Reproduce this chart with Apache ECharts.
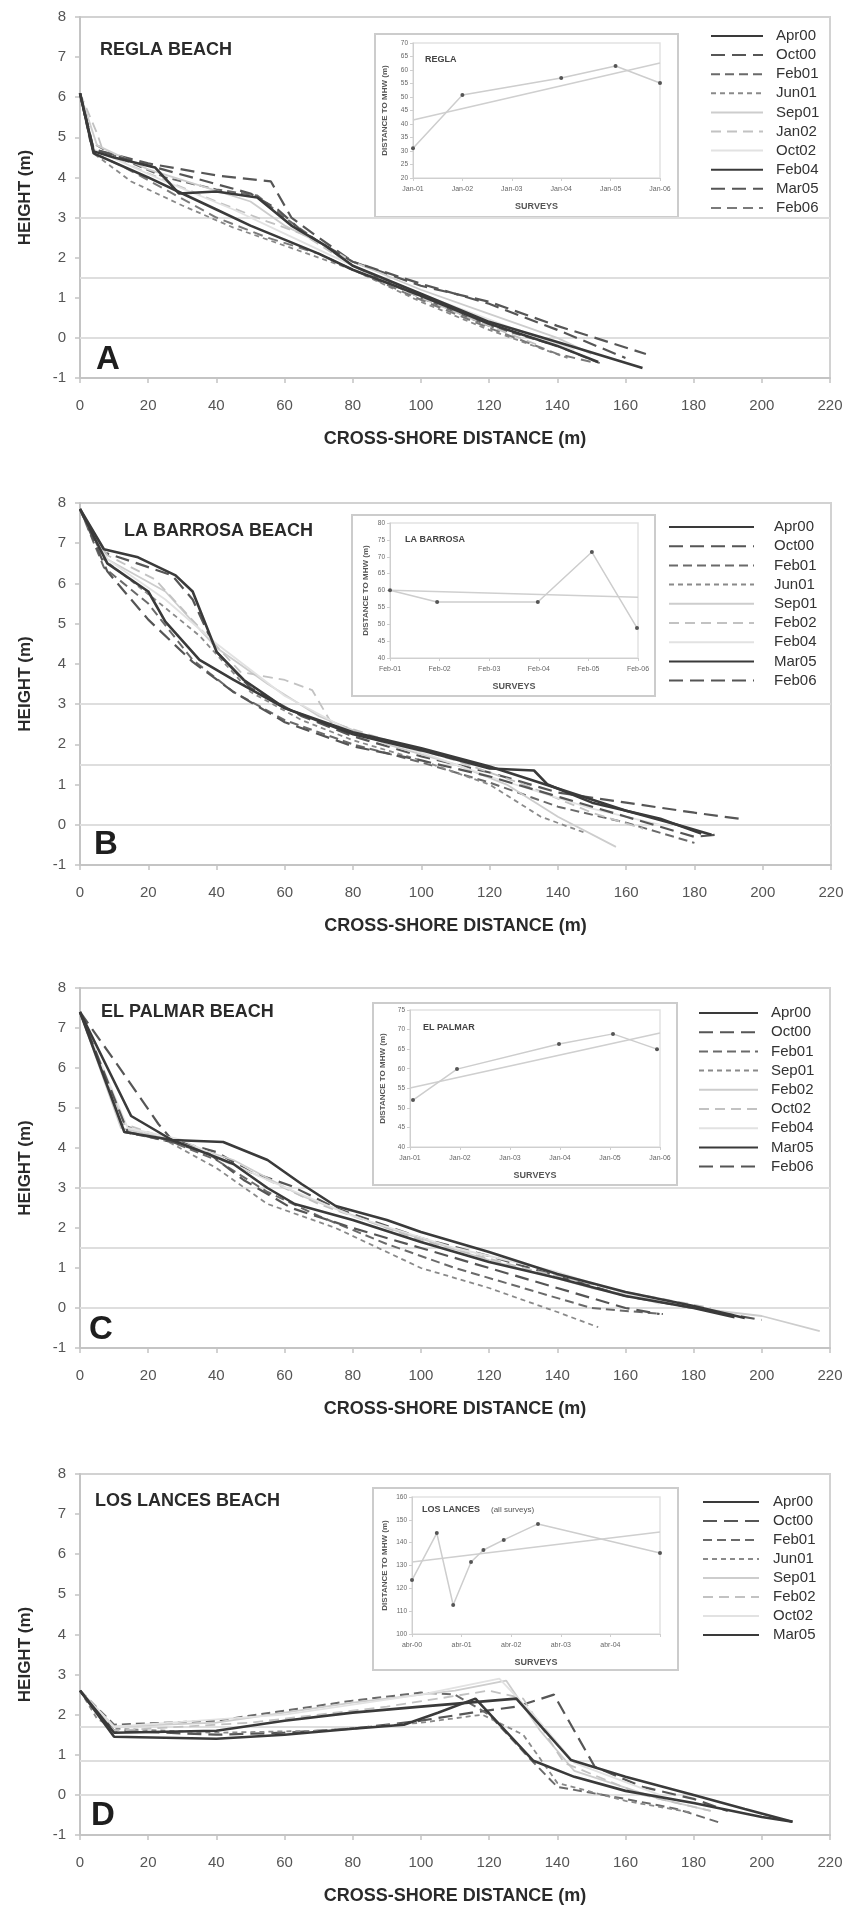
<!DOCTYPE html>
<html>
<head>
<meta charset="utf-8">
<script src="https://cdn.jsdelivr.net/npm/echarts@6/dist/echarts.min.js"></script>
<style>
html,body{margin:0;padding:0;background:#fff;}
#c{width:851px;height:1906px;}
</style>
</head>
<body>
<div id="c"></div>
<script>
// ---------------- DATA ----------------
const xTicks = [0,20,40,60,80,100,120,140,160,180,200,220];
const legendA = ['Apr00','Oct00','Feb01','Jun01','Sep01','Jan02','Oct02','Feb04','Mar05','Feb06'];
const legendB = ['Apr00','Oct00','Feb01','Jun01','Sep01','Feb02','Feb04','Mar05','Feb06'];
const legendC = ['Apr00','Oct00','Feb01','Sep01','Feb02','Oct02','Feb04','Mar05','Feb06'];
const legendD = ['Apr00','Oct00','Feb01','Jun01','Sep01','Feb02','Oct02','Mar05'];
const refA = [3, 1.5, 0];
const refB = [3, 1.5, 0];
const refC = [3, 1.5, 0];
const refD = [1.7, 0.85, 0];

// A: Regla
const reglaApr00 = [[0,6.1],[4,4.65],[10,4.5],[22,4.25],[29,3.6],[40,3.65],[52,3.5],[62,2.8],[72,2.3],[80,1.8],[100,1.1],[120,0.4],[140,-0.1],[165,-0.75]];
const reglaOct00 = [[0,6.1],[4,4.7],[20,4.35],[40,4.05],[56,3.9],[62,3.0],[70,2.5],[80,1.9],[100,1.3],[120,0.9],[140,0.3],[166,-0.4]];
const reglaFeb01 = [[0,6.1],[3,4.9],[10,4.55],[25,4.0],[40,3.7],[52,3.55],[60,3.0],[70,2.4],[80,1.8],[100,1.0],[120,0.3],[140,-0.2],[153,-0.65]];
const reglaJun01 = [[0,6.1],[4,4.6],[15,3.9],[30,3.3],[45,2.75],[60,2.3],[70,2.0],[80,1.7],[100,0.9],[120,0.2],[143,-0.5]];
const reglaSep01 = [[0,6.1],[5,4.8],[20,4.2],[35,3.8],[50,3.4],[60,2.8],[72,2.3],[80,1.9],[100,1.2],[120,0.6],[140,0.0],[150,-0.4]];
const reglaJan02 = [[0,6.1],[5,5.1],[7,4.6],[20,4.1],[40,3.4],[55,2.9],[65,2.6],[80,1.8],[100,1.0],[120,0.3],[135,-0.2]];
const reglaOct02 = [[0,6.1],[4,4.7],[25,3.9],[45,3.2],[60,2.6],[80,1.8],[100,1.1],[125,0.3],[145,-0.3]];
const reglaFeb04 = [[0,6.1],[4,4.6],[20,4.0],[30,3.6],[40,3.2],[50,2.8],[60,2.45],[70,2.1],[80,1.7],[100,1.05],[120,0.35],[140,-0.2],[152,-0.6]];
const reglaMar05 = [[0,6.1],[4,4.7],[20,4.3],[35,3.95],[50,3.6],[58,3.2],[66,2.6],[80,1.9],[100,1.35],[120,0.85],[140,0.2],[160,-0.5]];
const reglaFeb06 = [[0,6.1],[4,4.6],[12,4.3],[25,3.7],[40,3.0],[55,2.5],[70,2.1],[80,1.7],[100,0.95],[120,0.25],[140,-0.4],[150,-0.6]];

// B: La Barrosa
const barrosaApr00 = [[0,7.85],[7,6.85],[17,6.65],[28,6.2],[33,5.8],[40,4.3],[48,3.6],[60,2.9],[80,2.25],[100,1.85],[120,1.4],[133,1.35],[137,1.0],[150,0.55],[170,0.15],[182,-0.22]];
const barrosaOct00 = [[0,7.85],[6,6.8],[15,6.55],[27,6.2],[33,5.6],[40,4.3],[50,3.4],[65,2.7],[80,2.2],[100,1.7],[120,1.3],[140,0.8],[160,0.55],[180,0.3],[193,0.15]];
const barrosaFeb01 = [[0,7.85],[7,6.4],[20,5.5],[33,4.1],[45,3.3],[60,2.6],[80,2.0],[100,1.55],[120,1.05],[140,0.45],[160,0.05],[180,-0.45]];
const barrosaJun01 = [[0,7.85],[7,6.6],[22,5.6],[35,4.7],[50,3.3],[65,2.6],[80,2.1],[100,1.6],[120,1.0],[135,0.2],[148,-0.2]];
const barrosaSep01 = [[0,7.85],[8,6.6],[25,5.8],[40,4.4],[55,3.5],[70,2.7],[90,2.0],[110,1.5],[125,1.0],[140,0.2],[157,-0.55]];
const barrosaFeb02 = [[0,7.85],[8,6.7],[22,6.1],[35,4.9],[47,3.8],[60,3.6],[68,3.35],[73.5,2.55],[90,2.1],[110,1.6],[130,1.0],[150,0.3],[165,-0.1]];
const barrosaFeb04 = [[0,7.85],[8,6.6],[25,5.6],[40,4.5],[60,3.2],[80,2.3],[100,1.8],[120,1.2],[150,0.4],[170,0.0]];
const barrosaMar05 = [[0,7.85],[8,6.5],[20,5.8],[25,5.05],[35,4.1],[45,3.6],[60,2.9],[80,2.3],[100,1.9],[120,1.45],[140,0.9],[160,0.35],[175,0.0],[185,-0.25]];
const barrosaFeb06 = [[0,7.85],[8,6.3],[20,5.1],[33,4.05],[45,3.3],[60,2.55],[80,1.95],[100,1.6],[120,1.2],[140,0.7],[160,0.2],[180,-0.3],[186,-0.25]];

// C: El Palmar
const palmarApr00 = [[0,7.4],[15,4.8],[27,4.2],[45,3.6],[55,3.0],[63,2.6],[80,2.2],[100,1.65],[120,1.15],[140,0.75],[160,0.3],[180,0.0],[192,-0.23]];
const palmarOct00 = [[0,7.4],[10,6.2],[23,4.6],[27,4.2],[40,3.9],[50,3.4],[62,3.05],[75,2.5],[100,1.75],[120,1.3],[140,0.8],[160,0.3],[180,0.0],[200,-0.3]];
const palmarFeb01 = [[0,7.4],[13,4.4],[27,4.15],[40,3.7],[55,2.9],[70,2.3],[90,1.6],[110,1.0],[130,0.5],[150,0.0],[171,-0.15]];
const palmarSep01 = [[0,7.4],[12,4.6],[25,4.2],[40,3.5],[55,2.6],[75,2.0],[100,1.0],[120,0.5],[140,-0.1],[152,-0.48]];
const palmarFeb02 = [[0,7.4],[12,4.5],[27,4.2],[45,3.7],[65,2.8],[90,2.0],[120,1.2],[150,0.5],[180,0.0],[200,-0.2],[217,-0.58]];
const palmarOct02 = [[0,7.4],[13,4.6],[30,4.1],[50,3.4],[70,2.6],[100,1.7],[130,1.0],[160,0.4],[185,0.0]];
const palmarFeb04 = [[0,7.4],[14,4.5],[30,4.2],[55,3.2],[80,2.3],[110,1.5],[140,0.9],[170,0.1]];
const palmarMar05 = [[0,7.4],[13,4.4],[27,4.2],[42,4.15],[55,3.7],[65,3.1],[75,2.55],[90,2.2],[100,1.9],[120,1.4],[140,0.85],[160,0.4],[180,0.05],[195,-0.25]];
const palmarFeb06 = [[0,7.4],[14,4.4],[27,4.15],[38,3.85],[48,3.2],[62,2.5],[80,2.0],[100,1.5],[120,1.0],[140,0.5],[160,0.0],[170,-0.15]];

// D: Los Lances
const lancesApr00 = [[0,2.6],[10,1.45],[40,1.4],[60,1.5],[80,1.65],[95,1.75],[105,2.05],[116,2.4],[133,0.85],[145,0.45],[160,0.1],[180,-0.2],[200,-0.55],[209,-0.67]];
const lancesOct00 = [[0,2.6],[10,1.6],[40,1.5],[60,1.55],[80,1.65],[100,1.85],[115,2.05],[128,2.2],[139,2.5],[151,0.7],[165,0.2],[180,-0.1],[190,-0.4]];
const lancesFeb01 = [[0,2.6],[10,1.75],[40,1.85],[60,2.1],[80,2.35],[100,2.55],[110,2.5],[120,2.0],[132,0.9],[140,0.2],[160,-0.1],[175,-0.35],[188,-0.7]];
const lancesJun01 = [[0,2.6],[5,1.9],[10,1.65],[40,1.55],[70,1.6],[100,1.8],[118,2.0],[130,1.5],[140,0.3],[160,-0.15],[180,-0.45]];
const lancesSep01 = [[0,2.6],[10,1.7],[40,1.8],[80,2.3],[110,2.6],[125,2.85],[135,1.6],[145,0.6],[170,-0.1],[185,-0.4]];
const lancesFeb02 = [[0,2.6],[10,1.6],[50,1.8],[90,2.2],[120,2.6],[130,2.4],[142,0.8],[165,0.0],[185,-0.4]];
const lancesOct02 = [[0,2.6],[10,1.7],[60,2.0],[100,2.5],[123,2.9],[133,2.0],[145,0.8],[170,0.0]];
const lancesMar05 = [[0,2.6],[10,1.55],[40,1.6],[60,1.85],[80,2.05],[100,2.2],[128,2.4],[144,0.87],[160,0.45],[180,0.0],[195,-0.35],[209,-0.67]];

// Insets: distance to MHW per survey
const reglaInsetLabels = ['Jan-01','Jan-02','Jan-03','Jan-04','Jan-05','Jan-06'];
const barrosaInsetLabels = ['Feb-01','Feb-02','Feb-03','Feb-04','Feb-05','Feb-06'];
const palmarInsetLabels = ['Jan-01','Jan-02','Jan-03','Jan-04','Jan-05','Jan-06'];
const lancesInsetLabels = ['abr-00','abr-01','abr-02','abr-03','abr-04',''];
const reglaDist = [[0,31],[1,50.7],[3,57],[4.1,61.5],[5,55.2]];
const reglaTrend = [[0,41.5],[5,62.6]];
const barrosaDist = [[0,60.1],[0.95,56.6],[2.98,56.6],[4.07,71.4],[4.98,48.9]];
const barrosaTrend = [[0,60.1],[5,58.0]];
const palmarDist = [[0.06,52],[0.94,59.9],[2.98,66.3],[4.06,68.9],[4.94,65]];
const palmarTrend = [[0,55.1],[5,69.1]];
const lancesDist = [[0,123.6],[0.5,144.2],[0.83,112.7],[1.19,131.5],[1.44,136.8],[1.85,141.2],[2.54,148.2],[5,135.5]];
const lancesTrend = [[0,131.5],[5,144.7]];

// ---------------- STYLE ----------------
const FONT = "'Liberation Sans', Arial, sans-serif";
const styleList = [
  {color:'#3a3a3a', width:2.6, type:'solid'},
  {color:'#565656', width:2.2, type:[14,7]},
  {color:'#6a6a6a', width:2.0, type:[9,5]},
  {color:'#8a8a8a', width:1.8, type:[5,4]},
  {color:'#cdcdcd', width:1.8, type:'solid'},
  {color:'#c2c2c2', width:1.8, type:[10,6]},
  {color:'#e2e2e2', width:1.8, type:'solid'},
  {color:'#3a3a3a', width:2.6, type:'solid'},
  {color:'#555555', width:2.2, type:[14,7]},
  {color:'#7a7a7a', width:2.0, type:[10,6]}
];

const panels = [
  {id:'A', names:legendA, refs:refA, data:[reglaApr00,reglaOct00,reglaFeb01,reglaJun01,reglaSep01,reglaJan02,reglaOct02,reglaFeb04,reglaMar05,reglaFeb06],
   grid:{left:80, top:17, width:750, height:361},
   legend:{left:710, top:28.5, itemWidth:52, gap:19.1, textPad:8},
   title:'REGLA BEACH', titlePos:[100,50], letter:'A', letterPos:[96,360],
   box:[375,34,303,183], igrid:{left:413, top:43, width:247, height:135},
   ilabels:reglaInsetLabels, imin:20, imax:70, iint:5, idist:reglaDist, itrend:reglaTrend,
   iname:'REGLA', inamePos:[425,60], iyGap:24},
  {id:'B', names:legendB, refs:refB, data:[barrosaApr00,barrosaOct00,barrosaFeb01,barrosaJun01,barrosaSep01,barrosaFeb02,barrosaFeb04,barrosaMar05,barrosaFeb06],
   grid:{left:80, top:503, width:751, height:362},
   legend:{left:668, top:519.5, itemWidth:85, gap:19.2, textPad:15},
   title:'LA BARROSA BEACH', titlePos:[124,531], letter:'B', letterPos:[94,845], box:[352,515,303,181],
   igrid:{left:390, top:523, width:248, height:135},
   ilabels:barrosaInsetLabels, imin:40, imax:80, iint:5, idist:barrosaDist, itrend:barrosaTrend,
   iname:'LA BARROSA', inamePos:[405,540], iyGap:20},
  {id:'C', names:legendC, refs:refC, data:[palmarApr00,palmarOct00,palmarFeb01,palmarSep01,palmarFeb02,palmarOct02,palmarFeb04,palmarMar05,palmarFeb06],
   grid:{left:80, top:988, width:750, height:360},
   legend:{left:698, top:1005.5, itemWidth:59, gap:19.2, textPad:8},
   title:'EL PALMAR BEACH', titlePos:[101,1012], letter:'C', letterPos:[89,1330], box:[373,1003,304,182],
   igrid:{left:410, top:1010, width:250, height:137},
   ilabels:palmarInsetLabels, imin:40, imax:75, iint:5, idist:palmarDist, itrend:palmarTrend,
   iname:'EL PALMAR', inamePos:[423,1028], iyGap:23},
  {id:'D', names:legendD, refs:refD, data:[lancesApr00,lancesOct00,lancesFeb01,lancesJun01,lancesSep01,lancesFeb02,lancesOct02,lancesMar05],
   grid:{left:80, top:1474, width:750, height:361},
   legend:{left:702, top:1494.5, itemWidth:56, gap:19.0, textPad:9},
   title:'LOS LANCES BEACH', titlePos:[95,1501], letter:'D', letterPos:[91,1816], box:[373,1488,305,182],
   igrid:{left:412, top:1497, width:248, height:137},
   ilabels:lancesInsetLabels, imin:100, imax:160, iint:10, idist:lancesDist, itrend:lancesTrend,
   iname:'LOS LANCES', inamePos:[422,1510], iyGap:23, isub:'(all surveys)'}
];

const grids = [], xAxes = [], yAxes = [], series = [], legends = [], graphics = [];

panels.forEach((p, pi) => {
  grids.push(Object.assign({show:true, borderColor:'#d2d2d2', borderWidth:2, backgroundColor:'transparent'}, p.grid));
  xAxes.push({
    type:'value', gridIndex:pi, min:0, max:220, interval:20,
    name:'CROSS-SHORE DISTANCE (m)', nameLocation:'middle', nameGap:52,
    nameTextStyle:{fontFamily:FONT, fontSize:18, fontWeight:'bold', color:'#2a2a2a'},
    axisLine:{show:true, onZero:false, lineStyle:{color:'#c4c4c4', width:2}},
    axisTick:{show:true, length:5, lineStyle:{color:'#c4c4c4', width:1.5}},
    axisLabel:{fontFamily:FONT, fontSize:15, color:'#555', margin:20},
    splitLine:{show:false}
  });
  yAxes.push({
    type:'value', gridIndex:pi, min:-1, max:8, interval:1,
    name:'HEIGHT (m)', nameLocation:'middle', nameGap:46,
    nameTextStyle:{fontFamily:FONT, fontSize:17, fontWeight:'bold', color:'#2a2a2a'},
    axisLine:{show:true, onZero:false, lineStyle:{color:'#c4c4c4', width:2}},
    axisTick:{show:true, length:5, lineStyle:{color:'#c4c4c4', width:1.5}},
    axisLabel:{fontFamily:FONT, fontSize:15, color:'#555', margin:14},
    splitLine:{show:false}
  });
  p.names.forEach((nm, i) => {
    const st = styleList[i];
    const s = {
      type:'line', name:p.id + '|' + nm, xAxisIndex:pi, yAxisIndex:pi,
      data:p.data[i], symbol:'none', showSymbol:false, silent:true, animation:false,
      lineStyle:{color:st.color, width:st.width, type:st.type}, itemStyle:{color:st.color},
      z: 10 - (i === 0 || i === 7 ? 0 : 1)
    };
    if (i === 0) {
      s.markLine = {
        silent:true, symbol:['none','none'], label:{show:false}, animation:false,
        lineStyle:{color:'#dedede', width:2, type:'solid'},
        data:p.refs.map(v => ({yAxis:v}))
      };
    }
    series.push(s);
  });
  const rowH = 15;
  legends.push({
    orient:'vertical', left:p.legend.left, top:p.legend.top, padding:0,
    itemWidth:p.legend.itemWidth, itemHeight:rowH, itemGap:p.legend.gap - rowH,
    selectedMode:false,
    itemStyle:{opacity:0, color:'transparent', borderWidth:0},
    textStyle:{fontFamily:FONT, fontSize:15, color:'#333', padding:[0,0,0,p.legend.textPad]},
    formatter:(name) => name.split('|')[1],
    data:p.names.map(n => p.id + '|' + n)
  });
  // panel texts
  graphics.push({type:'text', silent:true, style:{text:p.title, x:p.titlePos[0], y:p.titlePos[1], font:'bold 18px ' + FONT, fill:'#2a2a2a', verticalAlign:'middle'}});
  graphics.push({type:'text', silent:true, style:{text:p.letter, x:p.letterPos[0], y:p.letterPos[1], font:'bold 33px ' + FONT, fill:'#1e1e1e', verticalAlign:'middle'}});
  graphics.push({type:'rect', silent:true, z:-1, shape:{x:p.box[0], y:p.box[1], width:p.box[2], height:p.box[3]}, style:{fill:'#fff', stroke:'#cccccc', lineWidth:2}});
  graphics.push({type:'text', silent:true, z:50, style:{text:p.iname, x:p.inamePos[0], y:p.inamePos[1], font:'bold 9px ' + FONT, fill:'#444', verticalAlign:'middle'}});
  if (p.isub) {
    graphics.push({type:'text', silent:true, z:50, style:{text:p.isub, x:p.inamePos[0] + 69, y:p.inamePos[1], font:'8px ' + FONT, fill:'#555', verticalAlign:'middle'}});
  }
});

// insets
panels.forEach((p, pi) => {
  const gi = grids.length;
  grids.push(Object.assign({show:true, borderColor:'#e2e2e2', borderWidth:1.5, backgroundColor:'#fff', z:3}, p.igrid));
  const labels = p.ilabels;
  xAxes.push({
    type:'value', gridIndex:gi, min:0, max:5, interval:1, z:4,
    name:'SURVEYS', nameLocation:'middle', nameGap:24,
    nameTextStyle:{fontFamily:FONT, fontSize:9, fontWeight:'bold', color:'#555'},
    axisLine:{show:true, onZero:false, lineStyle:{color:'#cfcfcf', width:1}},
    axisTick:{show:true, length:3, lineStyle:{color:'#cfcfcf'}},
    axisLabel:{fontFamily:FONT, fontSize:7, color:'#666', margin:8, formatter:(v) => labels[Math.round(v)] || ''},
    splitLine:{show:false}
  });
  yAxes.push({
    type:'value', gridIndex:gi, min:p.imin, max:p.imax, interval:p.iint, z:4,
    name:'DISTANCE TO MHW (m)', nameLocation:'middle', nameGap:p.iyGap,
    nameTextStyle:{fontFamily:FONT, fontSize:8, fontWeight:'bold', color:'#555'},
    axisLine:{show:true, onZero:false, lineStyle:{color:'#cfcfcf', width:1}},
    axisTick:{show:true, length:3, lineStyle:{color:'#cfcfcf'}},
    axisLabel:{fontFamily:FONT, fontSize:6.5, color:'#666', margin:5},
    splitLine:{show:false}
  });
  const ai = xAxes.length - 1;
  series.push({
    type:'line', name:'trend' + p.id, xAxisIndex:ai, yAxisIndex:ai, data:p.itrend, z:20,
    symbol:'none', silent:true, animation:false, lineStyle:{color:'#cfcfcf', width:1.5}
  });
  series.push({
    type:'line', name:'dist' + p.id, xAxisIndex:ai, yAxisIndex:ai, data:p.idist, z:21,
    symbol:'circle', symbolSize:4, showSymbol:true, silent:true, animation:false,
    lineStyle:{color:'#cdcdcd', width:1.5}, itemStyle:{color:'#555'}
  });
});

const chart = echarts.init(document.getElementById('c'), null, {renderer:'canvas', width:851, height:1906});
chart.setOption({
  backgroundColor:'#ffffff',
  animation:false,
  textStyle:{fontFamily:FONT},
  grid:grids, xAxis:xAxes, yAxis:yAxes, legend:legends, series:series,
  graphic:{elements:graphics}
});
</script>
</body>
</html>
